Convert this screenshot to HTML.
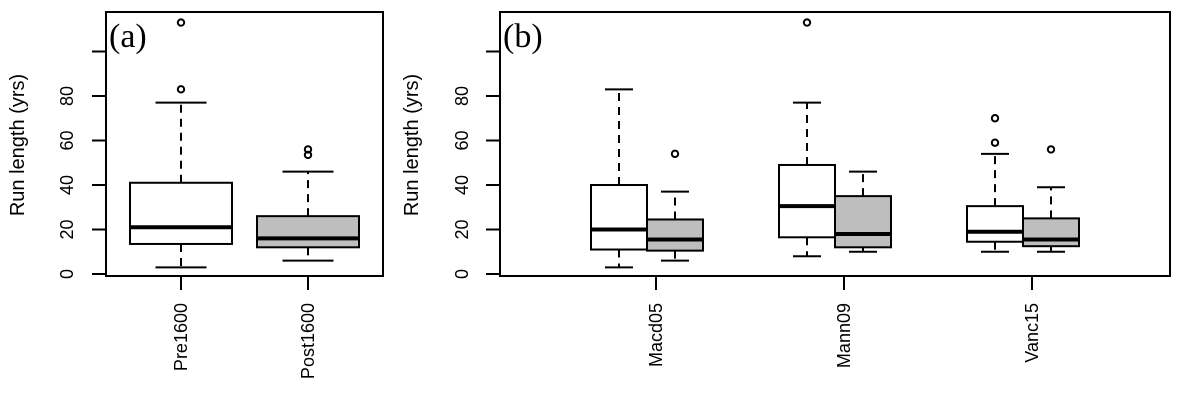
<!DOCTYPE html>
<html><head><meta charset="utf-8"><style>
html,body{margin:0;padding:0;background:#fff;}
svg{display:block;font-family:"Liberation Sans",Arial,sans-serif;}
</style></head><body>
<svg id="chart" width="1181" height="406" viewBox="0 0 1181 406" xmlns="http://www.w3.org/2000/svg"></svg>
<script>
// Panel (a)
const catsA = ["Pre1600","Post1600"];
const minA = [3, 6];
const q1A = [13.5, 12];
const medA = [21, 16];
const q3A = [41, 26];
const maxA = [77, 46];
const outA = [[83, 113], [53.5, 56]];
const fillA = ["#ffffff", "#bebebe"];
// Panel (b)
const groupsB = ["Macd05","Mann09","Vanc15"];
const minBw = [3, 8, 10];
const q1Bw = [11, 16.5, 14.5];
const medBw = [20, 30.5, 19];
const q3Bw = [40, 49, 30.5];
const maxBw = [83, 77, 54];
const outBw = [[], [113], [59, 70]];
const minBg = [6, 10, 10];
const q1Bg = [10.5, 12, 12.5];
const medBg = [15.5, 18, 15.5];
const q3Bg = [24.5, 35, 25];
const maxBg = [37, 46, 39];
const outBg = [[54], [], [56]];
const yTicks = [0, 20, 40, 60, 80, 100];
const yTickLabels = ["0","20","40","60","80",""];

const svg = document.getElementById('chart');
const NS = "http://www.w3.org/2000/svg";
function mk(tag, attrs, parent){
  const e = document.createElementNS(NS, tag);
  for (const k in attrs) e.setAttribute(k, attrs[k]);
  (parent||svg).appendChild(e);
  return e;
}
function y(v){ return 274 - 2.225 * v; }

function box(cx, w, mn, q1, md, q3, mx, outs, fill, name){
  const grp = mk('g', {});
  
  
  mk('line',{x1:cx,x2:cx,y1:y(q3),y2:y(mx),stroke:'#000','stroke-width':2,'stroke-dasharray':'8,6'},grp);
  mk('line',{x1:cx,x2:cx,y1:y(q1),y2:y(mn),stroke:'#000','stroke-width':2,'stroke-dasharray':'8,6'},grp);
  mk('line',{x1:cx-w/4,x2:cx+w/4,y1:y(mx),y2:y(mx),stroke:'#000','stroke-width':2},grp);
  mk('line',{x1:cx-w/4,x2:cx+w/4,y1:y(mn),y2:y(mn),stroke:'#000','stroke-width':2},grp);
  mk('rect',{x:cx-w/2,y:y(q3),width:w,height:y(q1)-y(q3),fill:fill,stroke:'#000','stroke-width':2},grp);
  mk('line',{x1:cx-w/2,x2:cx+w/2,y1:y(md),y2:y(md),stroke:'#000','stroke-width':4},grp);
  outs.forEach(o=>{
    const c = mk('circle',{cx:cx,cy:y(o),r:3.2,fill:'none',stroke:'#000','stroke-width':2},grp);
    
    
  });
}

function frame(x0, x1, label, labelX, panelName, titleX, tickLabX){
  const f = mk('rect',{x:x0,y:12,width:x1-x0,height:264,fill:'none',stroke:'#000','stroke-width':2});
  
  
  yTicks.forEach((t,i)=>{
    mk('line',{x1:x0-14,x2:x0,y1:y(t),y2:y(t),stroke:'#000','stroke-width':2});
    if (yTickLabels[i]) {
      const tx = mk('text',{x:tickLabX,y:y(t),'font-size':18,'text-anchor':'middle','dominant-baseline':'central',transform:`rotate(-90 ${tickLabX} ${y(t)})`});
      tx.textContent = yTickLabels[i];
      
      
    }
  });
  const tt = mk('text',{x:titleX,y:145,'font-size':20,'text-anchor':'middle','dominant-baseline':'central',transform:`rotate(-90 ${titleX} 145)`});
  tt.textContent = 'Run length (yrs)';
  
  
  const pl = mk('text',{x:labelX,y:47,'font-size':34,'font-family':'"Liberation Serif",serif'});
  pl.textContent = label;
  
  
}
function xLabel(x, text){
  mk('line',{x1:x,x2:x,y1:276,y2:290,stroke:'#000','stroke-width':2});
  const t = mk('text',{x:x,y:303,'font-size':18,'text-anchor':'end','dominant-baseline':'central',transform:`rotate(-90 ${x} 303)`});
  t.textContent = text;
  
  
}

// Panel a
frame(106, 383, '(a)', 109, 'panel-a', 18, 67);
const xA = i => 181 + 127 * i;
catsA.forEach((c,i)=>{
  box(xA(i), 102, minA[i], q1A[i], medA[i], q3A[i], maxA[i], outA[i], fillA[i], 'box-' + c.toLowerCase());
  xLabel(xA(i), c);
});

// Panel b
frame(500, 1170, '(b)', 503, 'panel-b', 412, 462);
const xB = i => 647 + 188 * i;
groupsB.forEach((g,i)=>{
  box(xB(i)-28, 56, minBw[i], q1Bw[i], medBw[i], q3Bw[i], maxBw[i], outBw[i], '#ffffff', 'box-' + g.toLowerCase() + '-pre');
  box(xB(i)+28, 56, minBg[i], q1Bg[i], medBg[i], q3Bg[i], maxBg[i], outBg[i], '#bebebe', 'box-' + g.toLowerCase() + '-post');
  xLabel(xB(i)+9, g);
});
</script>
</body></html>
